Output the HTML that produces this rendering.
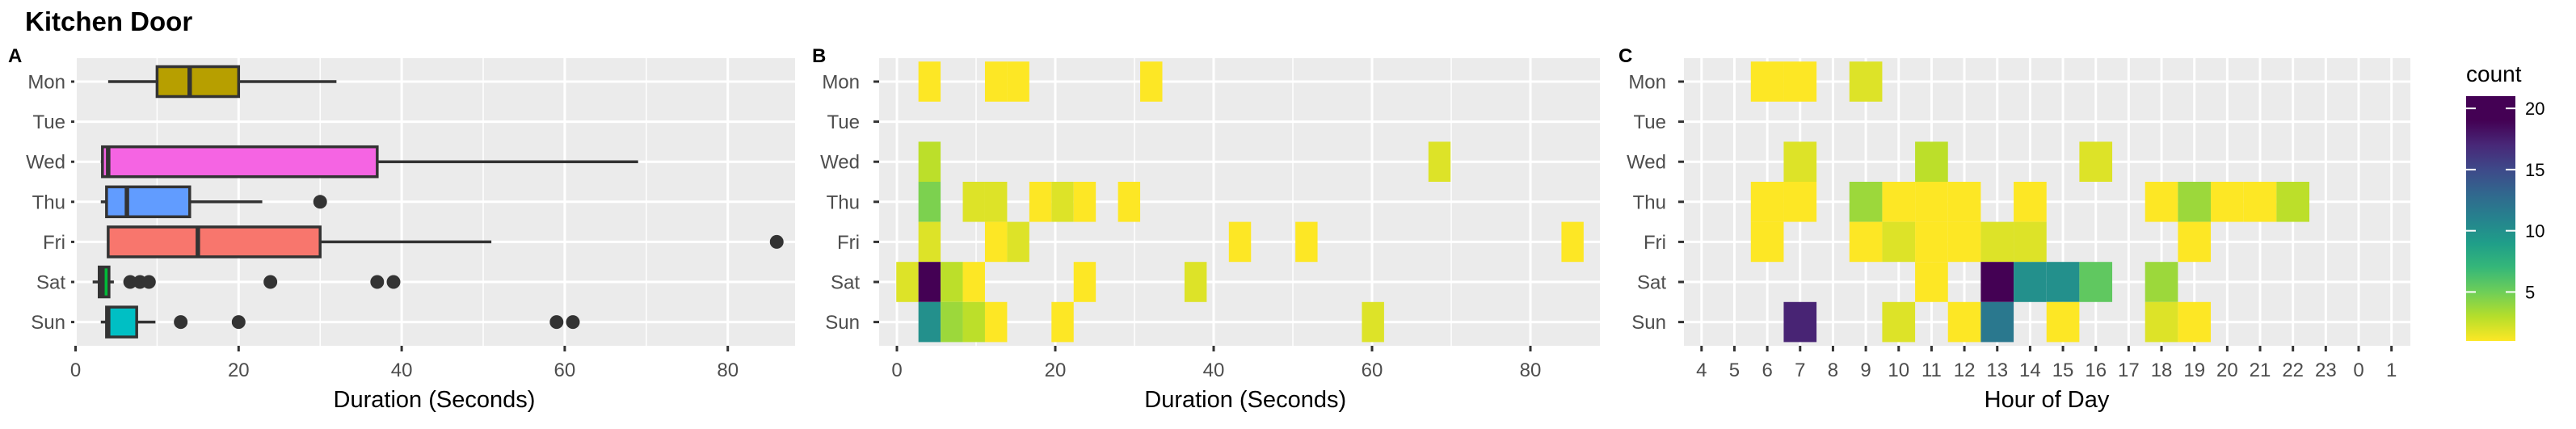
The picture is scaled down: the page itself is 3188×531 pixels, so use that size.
<!DOCTYPE html>
<html><head><meta charset="utf-8"><style>
html,body{margin:0;padding:0;background:#fff}
svg{display:block;font-family:"Liberation Sans",Arial,sans-serif}
</style></head><body>
<svg id="chart" width="3188" height="531" viewBox="0 0 3188 531" xmlns="http://www.w3.org/2000/svg">
<defs>
<linearGradient id="vir" x1="0" y1="1" x2="0" y2="0">
<stop offset="0" stop-color="#FDE725"/><stop offset="0.1" stop-color="#B5DE2B"/><stop offset="0.2" stop-color="#6ECE58"/><stop offset="0.3" stop-color="#35B779"/><stop offset="0.4" stop-color="#1F9E89"/><stop offset="0.5" stop-color="#26828E"/><stop offset="0.6" stop-color="#31688E"/><stop offset="0.7" stop-color="#3E4989"/><stop offset="0.8" stop-color="#482878"/><stop offset="0.9" stop-color="#440154" stop-opacity="1"/><stop offset="1" stop-color="#440154"/>
</linearGradient>
</defs>
<text x="31" y="38" font-size="33" font-weight="bold" fill="#000">Kitchen Door</text>
<g id="gA"></g><g id="gB"></g><g id="gC"></g><g id="leg"></g>
</svg>
<script>
const days = ["Mon","Tue","Wed","Thu","Fri","Sat","Sun"];
// Panel A boxplot stats: [whiskerLow, q1, median, q3, whiskerHigh]
const boxDays = ["Mon","Wed","Thu","Fri","Sat","Sun"];
const boxStats = [[4,10,14,20,32],[3.1,3.3,4,37,69],[3.1,3.8,6.3,14,22.9],[4,4,15,30,51],[2.1,2.9,3.3,4.1,4.7],[3.1,3.8,4,7.5,9.8]];
const boxColors = ["#B79F00","#F564E3","#619CFF","#F8766D","#00BA38","#00BFC4"];
const outDays = ["Thu","Fri","Sat","Sat","Sat","Sat","Sat","Sat","Sun","Sun","Sun","Sun"];
const outVals = [30,86,6.7,7.9,9,23.9,37,39,12.9,20,59,61];
const durTicks = [0,20,40,60,80];
// Panel B histogram-heatmap: day, bin index (binwidth 2.8 starting -0.08), count
const bDays = ["Mon","Mon","Mon","Mon","Wed","Wed","Thu","Thu","Thu","Thu","Thu","Thu","Thu","Fri","Fri","Fri","Fri","Fri","Fri","Sat","Sat","Sat","Sat","Sat","Sat","Sun","Sun","Sun","Sun","Sun","Sun"];
const bBins = [1,4,5,11,1,24,1,3,4,6,7,8,10,1,4,5,15,18,30,0,1,2,3,8,13,1,2,3,4,7,21];
const bCounts = [1,1,1,1,3,2,5,2,2,1,2,1,1,2,1,2,1,1,1,2,21,3,1,1,2,11,4,3,1,1,2];
// Panel C hour heatmap
const hours = [4,5,6,7,8,9,10,11,12,13,14,15,16,17,18,19,20,21,22,23,0,1];
const cDays = ["Mon","Mon","Mon","Wed","Wed","Wed","Thu","Thu","Thu","Thu","Thu","Thu","Thu","Thu","Thu","Thu","Thu","Thu","Fri","Fri","Fri","Fri","Fri","Fri","Fri","Fri","Sat","Sat","Sat","Sat","Sat","Sat","Sun","Sun","Sun","Sun","Sun","Sun","Sun"];
const cHours = [6,7,9,7,11,16,6,7,9,10,11,12,14,18,19,20,21,22,6,9,10,11,12,13,14,19,11,13,14,15,16,18,7,10,12,13,15,18,19];
const cCounts = [1,1,2,2,3,2,1,1,4,1,1,1,1,1,4,1,1,3,1,1,2,1,1,2,2,1,1,21,11,11,6,4,19,2,1,13,1,2,1];
const legTicks = [5,10,15,20];

const NS="http://www.w3.org/2000/svg";
function mk(p,tag,a){const e=document.createElementNS(NS,tag);for(const k in a)e.setAttribute(k,a[k]);p.appendChild(e);return e;}
const Y0=72,Y1=428,ROW=49.6;
function yDay(d){return 101+days.indexOf(d)*ROW;}
const VIR=["#FDE725","#B5DE2B","#6ECE58","#35B779","#1F9E89","#26828E","#31688E","#3E4989","#482878","#440154"];
function hex(c){return [1,3,5].map(i=>parseInt(c.substr(i,2),16));}
function colorOf(c){let t=Math.max(0,Math.min(1,(c-1)/20))*(VIR.length-1);const i=Math.min(Math.floor(t),VIR.length-2),f=t-i;const a=hex(VIR[i]),b=hex(VIR[i+1]);return "rgb("+a.map((v,k)=>Math.round(v+(b[k]-v)*f)).join(",")+")";}

function panelFrame(g,x0,x1,label,labX,yLabX,name){
  let e=mk(g,"rect",{x:x0,y:Y0,width:x1-x0,height:Y1-Y0,fill:"#EBEBEB"});
  
  e=mk(g,"text",{x:labX,y:77,"font-size":24,"font-weight":"bold"});e.textContent=label;
  
  days.forEach(d=>{const y=yDay(d);
    let l=mk(g,"line",{x1:x0,x2:x1,y1:y,y2:y,stroke:"#fff","stroke-width":3});
    
    let t=mk(g,"line",{x1:x0-7,x2:x0,y1:y,y2:y,stroke:"#333","stroke-width":3});
    
    let tx=mk(g,"text",{x:yLabX,y:y+8.5,"font-size":24,fill:"#4D4D4D","text-anchor":"end"});tx.textContent=d;
    
  });
}
function xAxis(g,x0,x1,sx,ticks,minors,title,titleX,name){
  minors.forEach(v=>{let l=mk(g,"line",{x1:sx(v),x2:sx(v),y1:Y0,y2:Y1,stroke:"#fff","stroke-width":1.5});
    });
  ticks.forEach(v=>{const x=sx(v);
    let l=mk(g,"line",{x1:x,x2:x,y1:Y0,y2:Y1,stroke:"#fff","stroke-width":3});
    
    let t=mk(g,"line",{x1:x,x2:x,y1:Y1,y2:Y1+7,stroke:"#333","stroke-width":3});
    
    let tx=mk(g,"text",{x:x,y:466,"font-size":24,fill:"#4D4D4D","text-anchor":"middle"});tx.textContent=v;
    });
  let e=mk(g,"text",{x:titleX,y:504,"font-size":29,fill:"#000","text-anchor":"middle"});e.textContent=title;
  
}

// Panel A
(function(){const g=document.getElementById("gA");const x0=95,x1=984;const sx=v=>93.5+v*10.09;
  panelFrame(g,x0,x1,"A",10,81,"panel-a");
  xAxis(g,x0,x1,sx,durTicks,[10,30,50,70],"Duration (Seconds)",sx(44),"panel-a");
  const bh=37;
  boxDays.forEach((d,i)=>{const s=boxStats[i],y=yDay(d);
    const grp=mk(g,"g",{});
    mk(grp,"line",{x1:sx(s[0]),x2:sx(s[1]),y1:y,y2:y,stroke:"#333","stroke-width":3.5});
    mk(grp,"line",{x1:sx(s[3]),x2:sx(s[4]),y1:y,y2:y,stroke:"#333","stroke-width":3.5});
    mk(grp,"rect",{x:sx(s[1]),y:y-bh/2,width:sx(s[3])-sx(s[1]),height:bh,fill:boxColors[i],stroke:"#333","stroke-width":3.5});
    mk(grp,"line",{x1:sx(s[2]),x2:sx(s[2]),y1:y-bh/2,y2:y+bh/2,stroke:"#333","stroke-width":5.5});
  });
  outVals.forEach((v,i)=>{const c=mk(g,"circle",{cx:sx(v),cy:yDay(outDays[i]),r:8.5,fill:"#333"});
    });
})();

// Panel B
(function(){const g=document.getElementById("gB");const x0=1088,x1=1980;const sx=v=>1110+v*9.8;
  panelFrame(g,x0,x1,"B",1005,1064,"panel-b");
  xAxis(g,x0,x1,sx,durTicks,[10,30,50,70],"Duration (Seconds)",sx(44),"panel-b");
  bBins.forEach((b,i)=>{const s=-0.08+b*2.8;const y=yDay(bDays[i]);
    const r=mk(g,"rect",{x:sx(s),y:y-ROW/2,width:sx(s+2.8)-sx(s),height:ROW,fill:colorOf(bCounts[i])});
    });
  // redraw ticks above nothing needed
})();

// Panel C
(function(){const g=document.getElementById("gC");const x0=2084,x1=2983;const step=40.66;
  const sx=h=>2105.8+hours.indexOf(h)*step;
  panelFrame(g,x0,x1,"C",2003,2062,"panel-c");
  xAxis(g,x0,x1,sx,hours,[],"Hour of Day",2533,"panel-c");
  cHours.forEach((h,i)=>{const y=yDay(cDays[i]);
    const r=mk(g,"rect",{x:sx(h)-step/2,y:y-ROW/2,width:step,height:ROW,fill:colorOf(cCounts[i])});
    });
})();

// Legend
(function(){const g=document.getElementById("leg");const bx=3052,bw=61,top=119,bot=422;
  const sy=v=>bot-(v-1)/20*(bot-top);
  let e=mk(g,"text",{x:3052,y:101,"font-size":28,fill:"#000"});e.textContent="count";
  
  e=mk(g,"rect",{x:bx,y:top,width:bw,height:bot-top,fill:"url(#vir)"});
  
  legTicks.forEach(v=>{const y=sy(v);
    let l=mk(g,"line",{x1:bx,x2:bx+12,y1:y,y2:y,stroke:"#fff","stroke-width":2});
    
    l=mk(g,"line",{x1:bx+bw-12,x2:bx+bw,y1:y,y2:y,stroke:"#fff","stroke-width":2});
    
    let t=mk(g,"text",{x:3125,y:y+8,"font-size":22,fill:"#000"});t.textContent=v;
    });
})();
</script>
</body></html>
